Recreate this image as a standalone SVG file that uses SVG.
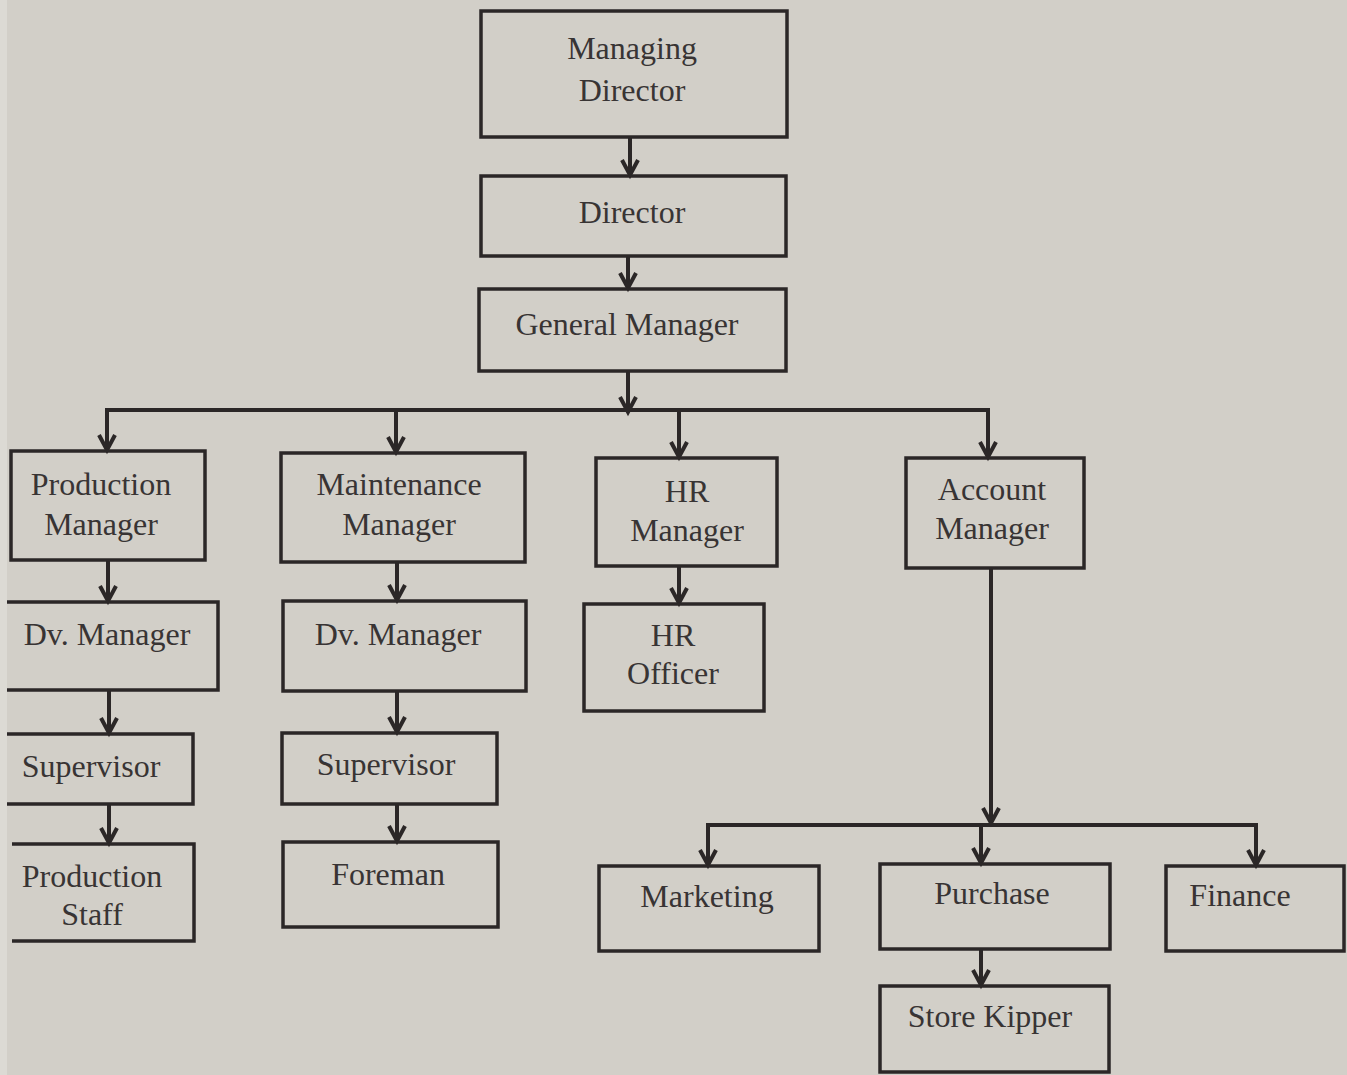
<svg xmlns="http://www.w3.org/2000/svg" width="1347" height="1075" viewBox="0 0 1347 1075">
<defs>
<style>
.bg{fill:#d2cfc8}
.box{fill:none;stroke:#2b2727;stroke-width:3.5}
.t{font-family:"Liberation Serif","Times New Roman",serif;font-size:32px;fill:#383434;text-anchor:middle}
.c{fill:none;stroke:#2b2727;stroke-width:4}
.a{marker-end:url(#arr)}
</style>
<marker id="arr" markerUnits="userSpaceOnUse" viewBox="-20 -12 24 24" markerWidth="24" markerHeight="24" refX="0" refY="0" orient="auto" overflow="visible">
<path d="M-15,-8 L0,0 L-15,8" fill="none" stroke="#2b2727" stroke-width="4" stroke-linejoin="miter"/>
</marker>
</defs>
<rect class="bg" x="0" y="0" width="1347" height="1075"/>
<rect x="0" y="0" width="7" height="1075" fill="#dcdad4"/>
<g id="connectors">
<line class="c a" x1="630" y1="137" x2="630" y2="175"/>
<line class="c a" x1="628" y1="256" x2="628" y2="288"/>
<line class="c a" x1="628" y1="371" x2="628" y2="412"/>
<polyline class="c" points="107,435 107,410 988,410 988,435"/>
<line class="c a" x1="107" y1="420" x2="107" y2="450"/>
<line class="c a" x1="396" y1="410" x2="396" y2="452"/>
<line class="c a" x1="679" y1="410" x2="679" y2="457"/>
<line class="c a" x1="988" y1="420" x2="988" y2="457"/>
<line class="c a" x1="108" y1="560" x2="108" y2="601"/>
<line class="c a" x1="109" y1="690" x2="109" y2="733"/>
<line class="c a" x1="109" y1="804" x2="109" y2="843"/>
<line class="c a" x1="397" y1="562" x2="397" y2="600"/>
<line class="c a" x1="397" y1="691" x2="397" y2="732"/>
<line class="c a" x1="397" y1="804" x2="397" y2="841"/>
<line class="c a" x1="679" y1="566" x2="679" y2="603"/>
<line class="c a" x1="991" y1="568" x2="991" y2="823"/>
<polyline class="c" points="708,845 708,825 1256,825 1256,845"/>
<line class="c a" x1="708" y1="835" x2="708" y2="865"/>
<line class="c a" x1="981" y1="825" x2="981" y2="863"/>
<line class="c a" x1="1256" y1="835" x2="1256" y2="865"/>
<line class="c a" x1="981" y1="949" x2="981" y2="985"/>
</g>
<g id="managing-director"><rect class="box" x="481" y="11" width="306" height="126"/><text class="t" x="632" y="59">Managing</text><text class="t" x="632" y="101">Director</text></g>
<g id="director"><rect class="box" x="481" y="176" width="305" height="80"/><text class="t" x="632" y="223">Director</text></g>
<g id="general-manager"><rect class="box" x="479" y="289" width="307" height="82"/><text class="t" x="627" y="335">General Manager</text></g>
<g id="production-manager"><rect class="box" x="11" y="451" width="194" height="109"/><text class="t" x="101" y="495">Production</text><text class="t" x="101" y="535">Manager</text></g>
<g id="maintenance-manager"><rect class="box" x="281" y="453" width="244" height="109"/><text class="t" x="399" y="495">Maintenance</text><text class="t" x="399" y="535">Manager</text></g>
<g id="hr-manager"><rect class="box" x="596" y="458" width="181" height="108"/><text class="t" x="687" y="502">HR</text><text class="t" x="687" y="541">Manager</text></g>
<g id="account-manager"><rect class="box" x="906" y="458" width="178" height="110"/><text class="t" x="992" y="500">Account</text><text class="t" x="992" y="539">Manager</text></g>
<g id="dv-manager-1"><path class="box" d="M7,602 H218 V690 H7"/><text class="t" x="107" y="645">Dv. Manager</text></g>
<g id="dv-manager-2"><rect class="box" x="283" y="601" width="243" height="90"/><text class="t" x="398" y="645">Dv. Manager</text></g>
<g id="hr-officer"><rect class="box" x="584" y="604" width="180" height="107"/><text class="t" x="673" y="646">HR</text><text class="t" x="673" y="684">Officer</text></g>
<g id="supervisor-1"><path class="box" d="M7,734 H193 V804 H7"/><text class="t" x="91" y="777">Supervisor</text></g>
<g id="supervisor-2"><rect class="box" x="282" y="733" width="215" height="71"/><text class="t" x="386" y="775">Supervisor</text></g>
<g id="production-staff"><path class="box" d="M12,844 H194 V941 H12"/><text class="t" x="92" y="887">Production</text><text class="t" x="92" y="925">Staff</text></g>
<g id="foreman"><rect class="box" x="283" y="842" width="215" height="85"/><text class="t" x="388" y="885">Foreman</text></g>
<g id="marketing"><rect class="box" x="599" y="866" width="220" height="85"/><text class="t" x="707" y="907">Marketing</text></g>
<g id="purchase"><rect class="box" x="880" y="864" width="230" height="85"/><text class="t" x="992" y="904">Purchase</text></g>
<g id="finance"><rect class="box" x="1166" y="866" width="178" height="85"/><text class="t" x="1240" y="906">Finance</text></g>
<g id="store-kipper"><rect class="box" x="880" y="986" width="229" height="86"/><text class="t" x="990" y="1027">Store Kipper</text></g>
</svg>
